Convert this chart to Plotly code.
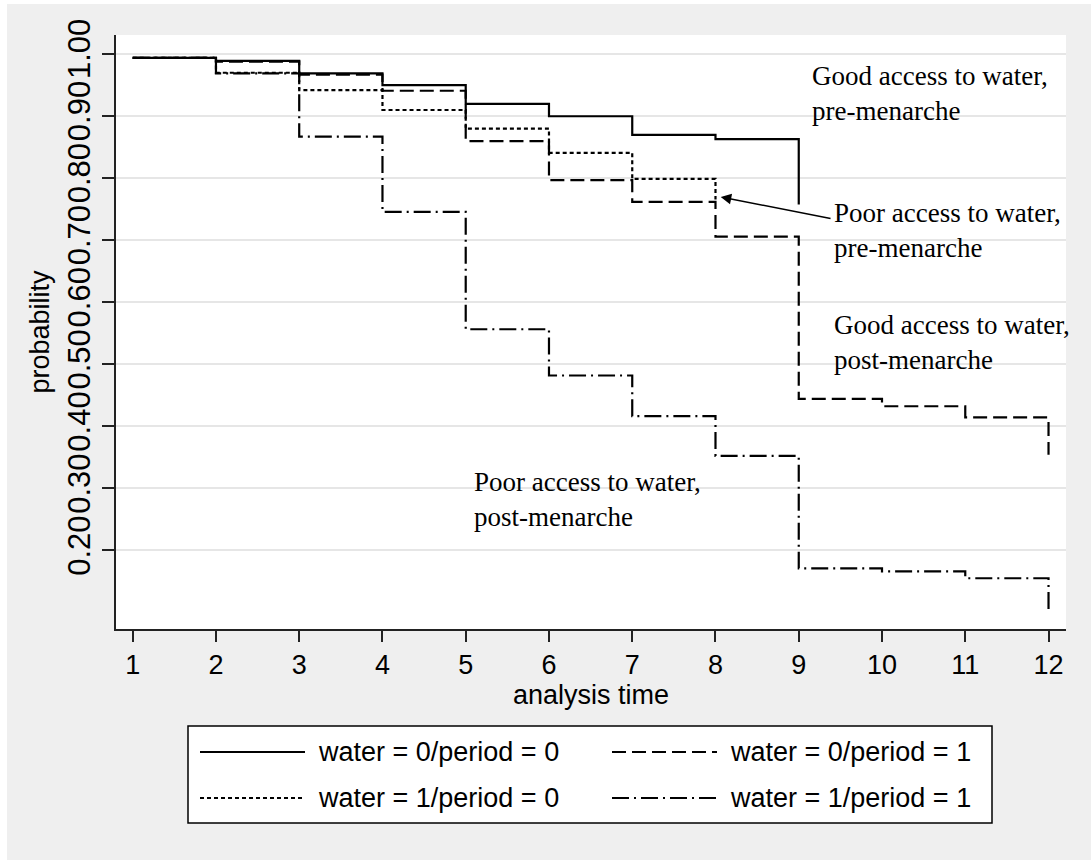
import plotly.graph_objects as go

# ---------------- data (Kaplan-Meier style step curves) ----------------
times_w0p0 = [1, 2, 3, 4, 5, 6, 7, 8, 9]
surv_w0p0 = [0.993, 0.988, 0.968, 0.949, 0.919, 0.899, 0.869, 0.862, 0.757]

times_w0p1 = [1, 2, 3, 4, 5, 6, 7, 8, 9, 10, 11, 12]
surv_w0p1 = [0.993, 0.987, 0.966, 0.940, 0.859, 0.796, 0.761, 0.705, 0.444, 0.432, 0.414, 0.354]

times_w1p0 = [1, 2, 3, 4, 5, 6, 7, 8]
surv_w1p0 = [0.993, 0.969, 0.941, 0.909, 0.879, 0.840, 0.798, 0.765]

times_w1p1 = [1, 2, 3, 4, 5, 6, 7, 8, 9, 10, 11, 12]
surv_w1p1 = [0.993, 0.968, 0.866, 0.745, 0.556, 0.4815, 0.416, 0.352, 0.171, 0.166, 0.155, 0.102]

series_names = ["water = 0/period = 0", "water = 0/period = 1",
                "water = 1/period = 0", "water = 1/period = 1"]

x_ticks = [1, 2, 3, 4, 5, 6, 7, 8, 9, 10, 11, 12]
y_ticks = [0.2, 0.3, 0.4, 0.5, 0.6, 0.7, 0.8, 0.9, 1.0]
y_ticklabels = ["0.20", "0.30", "0.40", "0.50", "0.60", "0.70", "0.80", "0.90", "1.00"]

# ---------------- styles ----------------
W, H = 1091, 860
ML, MR, MT, MB = 116, 25, 35, 231
PW, PH = W - ML - MR, H - MT - MB
BG = "#efefef"
SANS = "Arial, 'Liberation Sans', sans-serif"
SERIF = "'Times New Roman', 'Liberation Serif', serif"

dash_solid = "solid"
dash_long = "14px,6px"
dash_dot = "4px,3px"
dash_dashdot = "17px,5px,2px,5px"
dashes = [dash_solid, dash_long, dash_dot, dash_dashdot]
LW = 2.2


def px_x(px):
    return (px - ML) / PW


def px_y(py):
    return (H - MB - py) / PH


fig = go.Figure()
all_series = [(times_w0p0, surv_w0p0), (times_w0p1, surv_w0p1),
              (times_w1p0, surv_w1p0), (times_w1p1, surv_w1p1)]
for (t, s), name, d in zip(all_series, series_names, dashes):
    fig.add_trace(go.Scatter(x=t, y=s, mode="lines", name=name,
                             line=dict(shape="hv", color="black", width=LW, dash=d),
                             showlegend=False))

# ---------------- layout ----------------
fig.update_layout(
    width=W, height=H,
    margin=dict(l=ML, r=MR, t=MT, b=MB, pad=0),
    paper_bgcolor=BG, plot_bgcolor="white",
    font=dict(family=SANS, color="black"),
    showlegend=False,
)
fig.update_xaxes(
    range=[0.7994, 12.21], tickvals=x_ticks, ticktext=[str(v) for v in x_ticks],
    ticks="outside", ticklen=11, tickwidth=1.5, tickcolor="#222",
    showline=True, linecolor="#222", linewidth=1.5, showgrid=False, zeroline=False,
    tickfont=dict(size=27, family=SANS),
    title=dict(text="analysis time", font=dict(size=27, family=SANS), standoff=4),
)
fig.update_yaxes(
    range=[0.0733, 1.0298], tickvals=y_ticks, ticktext=y_ticklabels, tickangle=-90,
    ticks="outside", ticklen=12, tickwidth=1.5, tickcolor="#222",
    showline=True, linecolor="#222", linewidth=1.5,
    showgrid=True, gridcolor="#e6e6e6", gridwidth=2, zeroline=False,
    tickfont=dict(size=31, family=SANS),
    title=dict(text="probability", font=dict(size=27, family=SANS), standoff=4),
)

shapes = []
# white strips at left / top edge of the image
shapes.append(dict(type="rect", xref="paper", yref="paper", layer="above",
                   x0=px_x(-5), x1=px_x(7), y0=px_y(H + 5), y1=px_y(-5),
                   fillcolor="white", line=dict(width=0)))
shapes.append(dict(type="rect", xref="paper", yref="paper", layer="above",
                   x0=px_x(-5), x1=px_x(W + 5), y0=px_y(4), y1=px_y(-5),
                   fillcolor="white", line=dict(width=0)))

# legend box (drawn manually to get long line samples)
LEG_X0, LEG_X1, LEG_Y0, LEG_Y1 = 188, 992, 726, 823
shapes.append(dict(type="rect", xref="paper", yref="paper", layer="above",
                   x0=px_x(LEG_X0), x1=px_x(LEG_X1), y0=px_y(LEG_Y1), y1=px_y(LEG_Y0),
                   fillcolor="white", line=dict(color="black", width=1.5)))
rows = [752, 798]
line_cols = [(200, 305), (612, 717)]
text_cols = [316, 728]
annotations = []
for i, (name, d) in enumerate(zip(series_names, dashes)):
    r, c = i // 2, i % 2
    shapes.append(dict(type="line", xref="paper", yref="paper", layer="above",
                       x0=px_x(line_cols[c][0]), x1=px_x(line_cols[c][1]),
                       y0=px_y(rows[r]), y1=px_y(rows[r]),
                       line=dict(color="black", width=LW, dash=d)))
    annotations.append(dict(xref="paper", yref="paper", x=px_x(text_cols[c]), y=px_y(rows[r]),
                            text=name, showarrow=False, xanchor="left", yanchor="middle",
                            font=dict(size=27, family=SANS, color="black")))

# text labels in the plot
label_font = dict(size=27, family=SERIF, color="black")
plot_labels = [
    ("Good access to water,<br>pre-menarche", 9.14, 0.936),
    ("Poor access to water,<br>pre-menarche", 9.40, 0.715),
    ("Good access to water,<br>post-menarche", 9.40, 0.535),
    ("Poor access to water,<br>post-menarche", 5.07, 0.2815),
]
for txt, x, y in plot_labels:
    annotations.append(dict(xref="x", yref="y", x=x, y=y, text=txt, showarrow=False,
                            xanchor="left", yanchor="middle", align="left", font=label_font))
# arrow
annotations.append(dict(xref="x", yref="y", axref="x", ayref="y",
                        x=8.063, y=0.769, ax=9.40, ay=0.734, text="",
                        showarrow=True, arrowhead=2, arrowsize=1.4, arrowwidth=1.5,
                        arrowcolor="black"))

fig.update_layout(shapes=shapes, annotations=annotations)

fig.write_html(
    "out.html",
    config={"displayModeBar": False},
    post_script="document.body.style.margin='0';document.body.style.background='%s';" % BG,
)
